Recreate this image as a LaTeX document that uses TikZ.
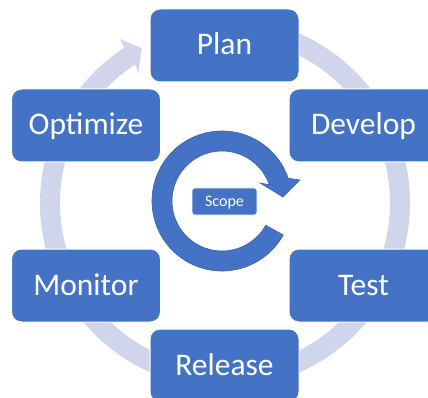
\documentclass[tikz,border=0pt]{standalone}
\usepackage{fontspec}
\setmainfont{Carlito}
\usetikzlibrary{calc}
\definecolor{boxblue}{HTML}{4472C4}
\definecolor{ringgray}{HTML}{CFD5EA}
\definecolor{edgeblue}{HTML}{3A62A8}
\begin{document}
\begin{tikzpicture}[x=1pt,y=1pt,
  stage/.style={draw=white, line width=1pt, fill=boxblue, rounded corners=10pt,
    minimum width=149pt, minimum height=73pt, inner sep=0pt, outer sep=0pt,
    text=white, font=\fontsize{31.5}{36}\selectfont, text height=19pt, text depth=0pt},
  scopebox/.style={draw=white, line width=0.6pt, fill=boxblue, rounded corners=3pt,
    minimum width=65pt, minimum height=27pt, inner sep=0pt, outer sep=0pt,
    text=white, font=\fontsize{16}{19}\selectfont, text height=10.5pt, text depth=0pt},
  ring/.style={fill=ringgray},
  cyclearrow/.style={fill=boxblue, draw=edgeblue, line width=0.6pt}]
\useasboundingbox (0,0) rectangle (428,-398);
\coordinate (O) at (225,-203);
\coordinate (C) at (222,-201);
% outer cycle ring with arrowhead
\path[ring] ($(O)+(80:185)$) arc[start angle=80, end angle=-237, radius=185]
  -- ($(O)+(122.6:194.7)$) -- ($(O)+(118.3:175.7)$) -- ($(O)+(123.7:156)$)
  -- ($(O)+(123:165)$) arc[start angle=123, end angle=440, radius=165] -- cycle;
% inner circular arrow
\path[cyclearrow] ($(C)+(-29:70)$) arc[start angle=-29, end angle=-341, radius=70]
  -- (300,-180) -- (283,-197) -- (260,-183)
  -- ($(C)+(19:50)$) arc[start angle=19, end angle=331, radius=50] -- cycle;
% stages
\node[stage] (plan) at (224.5,-45.5) {Plan};
\node[stage] (optimize) at (86,-125.5) {Optimize};
\node[stage] (develop) at (363.5,-125.5) {Develop};
\node[stage] (monitor) at (86,-285.5) {Monitor};
\node[stage] (test) at (363.5,-285.5) {Test};
\node[stage] (release) at (224.5,-365.5) {Release};
\node[scopebox] (scope) at (224.5,-201.5) {Scope};
\end{tikzpicture}
\end{document}
